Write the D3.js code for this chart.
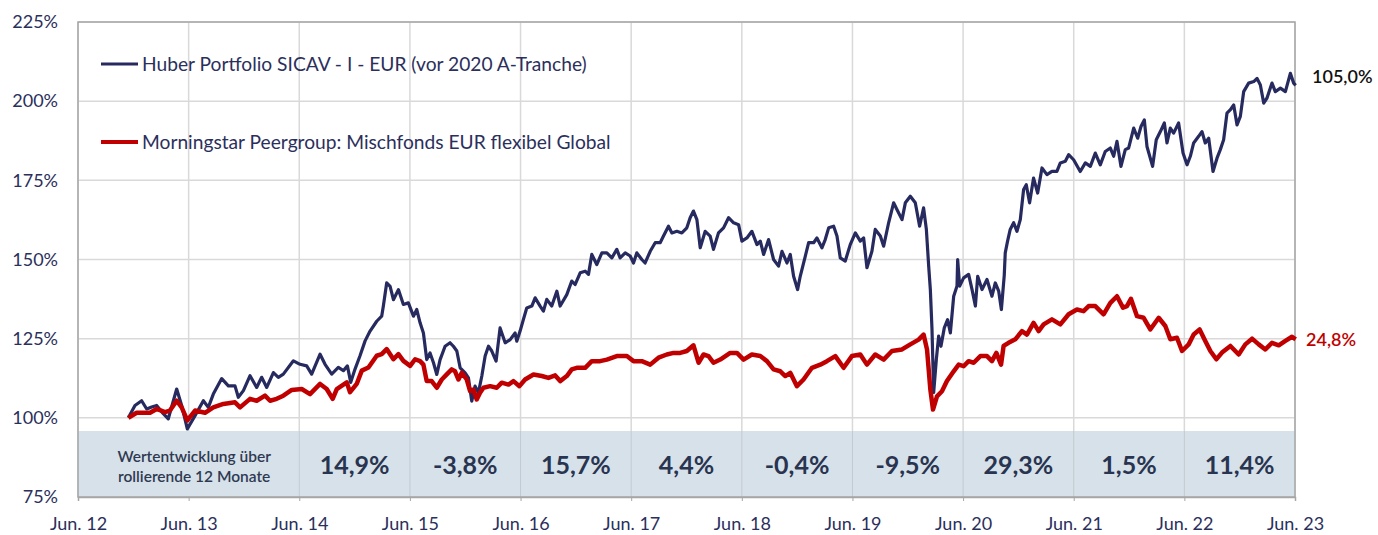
<!DOCTYPE html>
<html>
<head>
<meta charset="utf-8">
<script src="https://cdn.jsdelivr.net/npm/d3@7"></script>
<style>
  html, body { margin: 0; padding: 0; background: #fff; }
  #chart text { font-family: "Source Sans Pro", Lato, sans-serif; }
</style>
</head>
<body>
<div id="chart"></div>
<script>
// Werte (Dezimaljahr, Indexwert in %)
const hubYears = [2012.955, 2013.015, 2013.075, 2013.121, 2013.166, 2013.211, 2013.271, 2013.316, 2013.392, 2013.437, 2013.488, 2013.558, 2013.633, 2013.678, 2013.723, 2013.799, 2013.859, 2013.919, 2013.949, 2013.995,
  2014.055, 2014.115, 2014.160, 2014.206, 2014.266, 2014.311, 2014.356, 2014.447, 2014.507, 2014.567, 2014.612, 2014.688, 2014.733, 2014.793, 2014.853, 2014.899, 2014.935, 2014.965, 2015.004, 2015.049,
  2015.095, 2015.140, 2015.200, 2015.245, 2015.260, 2015.290, 2015.321, 2015.351, 2015.396, 2015.441, 2015.486, 2015.532, 2015.562, 2015.592, 2015.622, 2015.652, 2015.682, 2015.713, 2015.743, 2015.773,
  2015.818, 2015.863, 2015.893, 2015.924, 2015.954, 2015.999, 2016.029, 2016.059, 2016.089, 2016.119, 2016.150, 2016.180, 2016.210, 2016.240, 2016.279, 2016.315, 2016.361, 2016.406, 2016.451, 2016.466,
  2016.496, 2016.526, 2016.556, 2016.602, 2016.632, 2016.677, 2016.707, 2016.737, 2016.782, 2016.828, 2016.858, 2016.918, 2016.963, 2016.993, 2017.039, 2017.084, 2017.114, 2017.144, 2017.189, 2017.235,
  2017.280, 2017.325, 2017.370, 2017.400, 2017.446, 2017.491, 2017.521, 2017.551, 2017.596, 2017.626, 2017.672, 2017.717, 2017.762, 2017.792, 2017.837, 2017.868, 2017.913, 2017.958, 2018.003, 2018.033,
  2018.063, 2018.094, 2018.124, 2018.169, 2018.214, 2018.244, 2018.289, 2018.335, 2018.380, 2018.426, 2018.471, 2018.501, 2018.546, 2018.591, 2018.637, 2018.667, 2018.697, 2018.742, 2018.787, 2018.832,
  2018.863, 2018.908, 2018.938, 2018.968, 2019.004, 2019.028, 2019.074, 2019.104, 2019.149, 2019.179, 2019.224, 2019.254, 2019.285, 2019.330, 2019.360, 2019.390, 2019.435, 2019.480, 2019.526, 2019.571,
  2019.601, 2019.631, 2019.676, 2019.706, 2019.752, 2019.782, 2019.827, 2019.872, 2019.902, 2019.948, 2019.978, 2020.023, 2020.068, 2020.107, 2020.143, 2020.168, 2020.189, 2020.204, 2020.219, 2020.234,
  2020.258, 2020.279, 2020.300, 2020.330, 2020.360, 2020.385, 2020.415, 2020.445, 2020.451, 2020.469, 2020.505, 2020.550, 2020.581, 2020.611, 2020.632, 2020.671, 2020.716, 2020.761, 2020.791, 2020.822,
  2020.846, 2020.872, 2020.881, 2020.902, 2020.926, 2020.957, 2020.987, 2021.017, 2021.047, 2021.071, 2021.101, 2021.137, 2021.174, 2021.213, 2021.258, 2021.303, 2021.348, 2021.379, 2021.424, 2021.454,
  2021.499, 2021.559, 2021.605, 2021.650, 2021.695, 2021.740, 2021.785, 2021.831, 2021.861, 2021.891, 2021.927, 2021.966, 2021.996, 2022.042, 2022.078, 2022.108, 2022.138, 2022.162, 2022.213, 2022.246,
  2022.283, 2022.319, 2022.343, 2022.373, 2022.403, 2022.448, 2022.488, 2022.524, 2022.554, 2022.584, 2022.629, 2022.659, 2022.689, 2022.720, 2022.759, 2022.795, 2022.825, 2022.855, 2022.885, 2022.916,
  2022.946, 2022.976, 2023.006, 2023.036, 2023.081, 2023.127, 2023.157, 2023.187, 2023.217, 2023.247, 2023.292, 2023.322, 2023.368, 2023.413, 2023.458, 2023.488, 2023.506];
const hubValues = [100.0, 103.9, 105.4, 102.8, 103.4, 103.9, 101.3, 99.7, 109.1, 103.9, 96.5, 100.7, 105.4, 103.3, 107.5, 112.4, 110.1, 110.1, 106.5, 108.6,
  113.3, 109.6, 112.8, 109.6, 114.3, 112.8, 113.8, 118.0, 116.9, 116.4, 113.8, 120.1, 116.9, 113.8, 115.9, 114.9, 116.4, 111.2, 115.4, 119.6,
  124.3, 127.4, 130.5, 132.1, 135.3, 142.6, 141.5, 137.3, 140.5, 135.8, 136.3, 132.1, 134.2, 130.0, 126.8, 118.4, 120.5, 117.4, 113.7, 118.4,
  122.6, 123.7, 122.6, 121.1, 115.8, 114.2, 112.6, 105.3, 110.0, 107.9, 113.2, 119.5, 122.6, 121.1, 117.9, 128.4, 123.7, 124.7, 126.8, 124.2,
  127.4, 131.1, 134.7, 135.3, 137.9, 135.3, 133.7, 137.4, 135.3, 140.0, 135.3, 138.9, 143.2, 142.1, 145.8, 146.3, 145.3, 151.6, 148.4, 152.1,
  152.1, 150.5, 153.2, 150.5, 152.1, 151.1, 148.9, 152.1, 150.0, 148.9, 152.6, 155.3, 155.3, 157.4, 160.5, 158.4, 158.9, 158.4, 160.0, 163.2,
  165.3, 162.6, 153.7, 158.9, 157.4, 153.2, 158.4, 160.0, 163.2, 161.6, 161.0, 155.8, 156.8, 158.9, 154.7, 155.8, 151.6, 156.3, 150.0, 147.9,
  152.6, 148.9, 151.6, 144.7, 140.5, 144.7, 151.1, 155.3, 155.3, 156.8, 153.7, 156.3, 160.0, 160.5, 157.4, 150.5, 149.5, 154.7, 158.4, 155.8,
  156.8, 147.4, 152.6, 159.5, 157.4, 154.2, 161.6, 167.9, 165.8, 162.6, 167.9, 170.0, 167.9, 160.5, 166.3, 159.5, 147.9, 140.5, 127.9, 108.0,
  118.4, 125.8, 122.6, 128.4, 131.0, 126.8, 138.4, 141.6, 150.0, 141.6, 144.2, 145.3, 140.5, 135.3, 144.7, 140.5, 143.7, 138.4, 142.6, 140.0,
  134.2, 145.0, 152.1, 155.8, 159.5, 161.6, 158.9, 162.6, 172.1, 173.6, 167.9, 175.7, 171.0, 178.9, 176.8, 177.8, 177.8, 180.5, 181.0, 183.1,
  181.5, 177.8, 180.5, 179.4, 183.6, 179.9, 184.1, 185.2, 182.6, 187.3, 179.4, 184.7, 185.2, 191.5, 188.3, 192.0, 194.1, 185.7, 179.4, 187.8,
  190.4, 193.1, 186.8, 191.5, 189.9, 193.1, 183.6, 179.9, 182.6, 186.8, 188.9, 190.4, 186.8, 188.3, 177.8, 182.0, 184.7, 187.8, 196.2, 197.3,
  198.8, 192.5, 195.2, 203.0, 205.7, 206.2, 207.2, 205.1, 199.4, 201.0, 205.7, 203.0, 204.1, 203.0, 208.8, 205.7, 205.0];

const peerYears = [2012.955, 2013.030, 2013.090, 2013.151, 2013.211, 2013.286, 2013.331, 2013.392, 2013.437, 2013.488, 2013.558, 2013.648, 2013.723, 2013.814, 2013.919, 2013.965, 2014.055, 2014.115, 2014.190, 2014.236,
  2014.296, 2014.356, 2014.432, 2014.522, 2014.597, 2014.688, 2014.748, 2014.802, 2014.839, 2014.929, 2014.959, 2015.019, 2015.065, 2015.125, 2015.200, 2015.245, 2015.290, 2015.351, 2015.396, 2015.441,
  2015.502, 2015.547, 2015.592, 2015.622, 2015.652, 2015.697, 2015.743, 2015.788, 2015.833, 2015.878, 2015.908, 2015.939, 2015.969, 2016.014, 2016.044, 2016.074, 2016.104, 2016.134, 2016.165, 2016.225,
  2016.285, 2016.330, 2016.391, 2016.436, 2016.490, 2016.541, 2016.617, 2016.692, 2016.752, 2016.813, 2016.858, 2016.918, 2016.963, 2017.008, 2017.084, 2017.144, 2017.219, 2017.280, 2017.370, 2017.461,
  2017.521, 2017.596, 2017.672, 2017.747, 2017.822, 2017.883, 2017.943, 2018.003, 2018.063, 2018.109, 2018.154, 2018.199, 2018.244, 2018.305, 2018.395, 2018.456, 2018.516, 2018.591, 2018.667, 2018.727,
  2018.787, 2018.848, 2018.893, 2018.938, 2018.998, 2019.058, 2019.134, 2019.209, 2019.269, 2019.345, 2019.420, 2019.495, 2019.571, 2019.631, 2019.706, 2019.782, 2019.857, 2019.948, 2020.023, 2020.098,
  2020.143, 2020.174, 2020.204, 2020.228, 2020.264, 2020.309, 2020.354, 2020.415, 2020.460, 2020.505, 2020.550, 2020.596, 2020.656, 2020.716, 2020.761, 2020.801, 2020.843, 2020.866, 2020.911, 2020.972,
  2021.032, 2021.077, 2021.137, 2021.183, 2021.228, 2021.303, 2021.379, 2021.454, 2021.529, 2021.589, 2021.635, 2021.695, 2021.770, 2021.831, 2021.891, 2021.945, 2021.981, 2022.017, 2022.072, 2022.132,
  2022.192, 2022.268, 2022.328, 2022.373, 2022.433, 2022.479, 2022.539, 2022.584, 2022.638, 2022.689, 2022.735, 2022.789, 2022.840, 2022.916, 2022.991, 2023.051, 2023.112, 2023.172, 2023.232, 2023.292,
  2023.353, 2023.413, 2023.473, 2023.506];
const peerValues = [100.0, 101.6, 101.6, 101.6, 102.8, 101.8, 102.3, 105.4, 103.3, 99.2, 102.3, 101.6, 103.3, 104.4, 104.9, 103.3, 106.0, 105.4, 107.0, 105.4,
  106.0, 107.0, 108.8, 109.1, 107.5, 110.7, 109.1, 106.0, 109.1, 111.2, 108.1, 110.7, 114.9, 115.9, 119.6, 120.1, 121.7, 118.5, 120.1, 118.0,
  116.4, 118.5, 117.9, 116.8, 111.6, 111.6, 109.5, 112.1, 113.7, 115.3, 114.7, 112.1, 114.2, 112.1, 108.4, 108.9, 105.8, 107.9, 109.5, 110.0,
  109.5, 111.1, 110.5, 111.6, 110.0, 112.1, 113.7, 113.2, 112.6, 113.4, 111.6, 113.2, 115.3, 115.8, 115.8, 117.9, 117.9, 118.4, 119.5, 119.5,
  117.9, 117.9, 116.8, 119.0, 120.0, 120.5, 120.5, 121.1, 122.9, 117.4, 120.0, 119.5, 117.4, 118.4, 120.5, 120.5, 118.4, 120.0, 119.5, 117.9,
  115.3, 114.7, 113.2, 114.2, 110.0, 112.1, 115.8, 116.8, 117.9, 119.5, 115.8, 119.5, 120.0, 116.8, 120.0, 118.4, 121.1, 121.6, 123.2, 124.7,
  126.3, 121.6, 109.0, 102.6, 106.8, 108.4, 111.6, 114.7, 116.8, 116.3, 117.9, 117.4, 119.5, 119.5, 117.9, 120.5, 116.8, 122.7, 123.7, 124.8,
  127.4, 126.3, 130.0, 127.4, 129.5, 131.1, 129.5, 132.7, 134.2, 133.7, 135.3, 135.3, 132.7, 136.3, 138.4, 134.8, 135.3, 137.6, 132.1, 131.6,
  127.9, 131.6, 129.0, 124.8, 125.3, 121.1, 123.2, 126.3, 127.9, 124.3, 121.1, 118.5, 120.6, 122.7, 120.0, 123.2, 125.0, 123.2, 121.6, 123.7,
  122.9, 124.3, 125.6, 124.8];

const seriesNames = ["Huber Portfolio SICAV - I - EUR (vor 2020 A-Tranche)", "Morningstar Peergroup: Mischfonds EUR flexibel Global"];
const endLabels = ["105,0%", "24,8%"];

const tickYears = [2012.5, 2013.5, 2014.5, 2015.5, 2016.5, 2017.5, 2018.5, 2019.5, 2020.5, 2021.5, 2022.5, 2023.5];
const xTickLabels = ["Jun. 12", "Jun. 13", "Jun. 14", "Jun. 15", "Jun. 16", "Jun. 17", "Jun. 18", "Jun. 19", "Jun. 20", "Jun. 21", "Jun. 22", "Jun. 23"];
const yTicks = [75, 100, 125, 150, 175, 200, 225];

// rollierende 12 Monate (Startjahr der Periode)
const perfStart = [2014.5, 2015.5, 2016.5, 2017.5, 2018.5, 2019.5, 2020.5, 2021.5, 2022.5];
const perfLabels = ["14,9%", "-3,8%", "15,7%", "4,4%", "-0,4%", "-9,5%", "29,3%", "1,5%", "11,4%"];

const width = 1378;
const height = 535;
const marginTop = 22;
const marginRight = 83;
const marginBottom = 38;
const marginLeft = 78;

const navy = "#262a5e";
const red = "#c00000";
const textColor = "#2b2f5c";

const x = d3.scaleLinear()
    .domain([2012.5, 2023.5])
    .range([marginLeft, width - marginRight]);

const y = d3.scaleLinear()
    .domain([75, 225])
    .range([height - marginBottom, marginTop]);

const svg = d3.create("svg")
    .attr("width", width)
    .attr("height", height)
    .attr("viewBox", [0, 0, width, height]);

// Gitterlinien
svg.append("g")
    .attr("stroke", "#d9d9d9")
    .attr("stroke-width", 1.5)
    .selectAll("line")
    .data(yTicks)
    .join("line")
    .attr("x1", marginLeft).attr("x2", width - marginRight)
    .attr("y1", d => y(d)).attr("y2", d => y(d));

svg.append("g")
    .attr("stroke", "#d9d9d9")
    .attr("stroke-width", 1.5)
    .selectAll("line")
    .data(tickYears)
    .join("line")
    .attr("x1", d => x(d)).attr("x2", d => x(d))
    .attr("y1", marginTop).attr("y2", height - marginBottom);

// Tabelle mit rollierender Wertentwicklung
const boxTop = 431;
svg.append("rect")
    .attr("x", marginLeft)
    .attr("y", boxTop)
    .attr("width", width - marginRight - marginLeft)
    .attr("height", y(75) - boxTop)
    .attr("fill", "#d7e1e9");

svg.append("g")
    .attr("stroke", "#c3cad1")
    .attr("stroke-width", 1)
    .selectAll("line")
    .data(perfStart)
    .join("line")
    .attr("x1", d => x(d)).attr("x2", d => x(d))
    .attr("y1", boxTop).attr("y2", y(75));

svg.append("g")
    .attr("fill", "#283450")
    .attr("font-size", 25)
    .attr("font-weight", 700)
    .attr("text-anchor", "middle")
    .selectAll("text")
    .data(perfStart)
    .join("text")
    .attr("x", d => x(d + 0.5))
    .attr("y", 474)
    .text((d, i) => perfLabels[i]);

const cellLabel = svg.append("text")
    .attr("fill", "#2f3a52")
    .attr("font-size", 15.5)
    .attr("font-weight", 600)
    .attr("text-anchor", "middle");
cellLabel.append("tspan").attr("x", x(2013.55)).attr("y", 462).text("Wertentwicklung über");
cellLabel.append("tspan").attr("x", x(2013.55)).attr("y", 482).text("rollierende 12 Monate");

// Rahmen
svg.append("rect")
    .attr("x", marginLeft).attr("y", marginTop)
    .attr("width", width - marginRight - marginLeft)
    .attr("height", y(75) - marginTop)
    .attr("fill", "none")
    .attr("stroke", "#a6a6a6")
    .attr("stroke-width", 1.5);

// Achsen
const gx = svg.append("g")
    .attr("transform", `translate(0,${y(75)})`)
    .call(d3.axisBottom(x).tickValues(tickYears).tickFormat((d, i) => xTickLabels[i]).tickSize(4).tickPadding(16))
    .call(g => g.select(".domain").attr("stroke", "#a6a6a6").attr("stroke-width", 1.5));
gx.selectAll(".tick line").attr("stroke", "#a6a6a6");
gx.selectAll("text").attr("fill", textColor).attr("font-size", 18);

const gy = svg.append("g")
    .attr("transform", `translate(${marginLeft},0)`)
    .call(d3.axisLeft(y).tickValues(yTicks).tickFormat(d => d + "%").tickSize(0).tickPadding(20))
    .call(g => g.select(".domain").remove());
gy.selectAll("text").attr("fill", textColor).attr("font-size", 18);

// Linien
const line = d3.line()
    .x(d => x(d[0]))
    .y(d => y(d[1]));

const hubData = hubYears.map((t, i) => [t, hubValues[i]]);
const peerData = peerYears.map((t, i) => [t, peerValues[i]]);

svg.append("path")
    .datum(hubData)
    .attr("fill", "none")
    .attr("stroke", navy)
    .attr("stroke-width", 3.2)
    .attr("stroke-linejoin", "round")
    .attr("d", line);

svg.append("path")
    .datum(peerData)
    .attr("fill", "none")
    .attr("stroke", red)
    .attr("stroke-width", 4.5)
    .attr("stroke-linejoin", "round")
    .attr("d", line);

// Endwerte
svg.append("text")
    .attr("x", 1312)
    .attr("y", y(hubValues[hubValues.length - 1]) - 9)
    .attr("dy", "0.35em")
    .attr("fill", "#111")
    .attr("font-size", 18)
    .attr("font-weight", 600)
    .text(endLabels[0]);

svg.append("text")
    .attr("x", 1306)
    .attr("y", y(peerValues[peerValues.length - 1]))
    .attr("dy", "0.35em")
    .attr("fill", red)
    .attr("font-size", 18)
    .attr("font-weight", 600)
    .text(endLabels[1]);

// Legende
const legend = svg.append("g")
    .selectAll("g")
    .data(seriesNames)
    .join("g")
    .attr("transform", (d, i) => `translate(101,${64 + i * 78})`);

legend.append("line")
    .attr("x1", 0).attr("x2", 37)
    .attr("stroke", (d, i) => i === 0 ? navy : red)
    .attr("stroke-width", (d, i) => i === 0 ? 3 : 4);

legend.append("text")
    .attr("x", 41)
    .attr("dy", "0.35em")
    .attr("fill", textColor)
    .attr("font-size", 19.2)
    .text(d => d);

document.getElementById("chart").appendChild(svg.node());
</script>
</body>
</html>
